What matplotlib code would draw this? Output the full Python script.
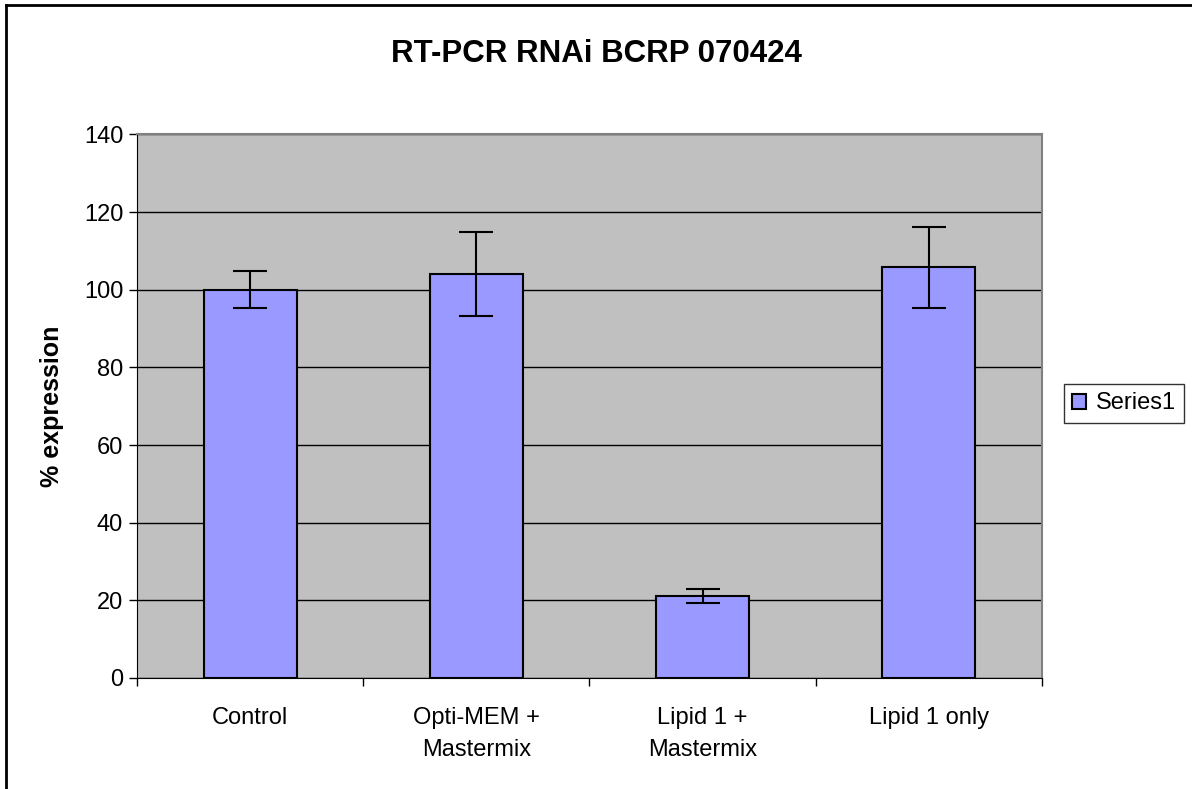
import numpy as np
import matplotlib.pyplot as plt
from matplotlib.lines import Line2D

plt.rcParams['font.family'] = ['Liberation Sans', 'DejaVu Sans']

# datos
categorias = ['Control', 'Opti-MEM +\nMastermix', 'Lipid 1 +\nMastermix', 'Lipid 1 only']
expresion = [100.0, 104.0, 21.0, 105.8]
error = [4.8, 10.8, 1.8, 10.4]
yticks = [0, 20, 40, 60, 80, 100, 120, 140]

fig = plt.figure(figsize=(11.92, 7.89), dpi=100)
ax = fig.add_axes([0.115, 0.1407, 0.759, 0.689])
ax.set_facecolor('#C0C0C0')

x = np.arange(len(categorias))
ax.bar(x, expresion, width=0.41, color='#9999FF', edgecolor='black', linewidth=1.5,
       label='Series1', zorder=3)
ax.errorbar(x, expresion, yerr=error, fmt='none', ecolor='black', elinewidth=1.5,
            capsize=12, capthick=1.5, zorder=4)

ax.set_xlim(-0.5, len(categorias) - 0.5)
ax.set_ylim(0, 140)
ax.set_yticks(yticks)
ax.yaxis.grid(True, color='black', linewidth=1)
ax.set_axisbelow(True)

# ticks en los limites de categoria
ax.set_xticks(np.arange(-0.5, len(categorias), 1.0))
ax.set_xticklabels([])
ax.set_xticks(x, minor=True)
ax.set_xticklabels(categorias, minor=True, fontsize=17, linespacing=1.55)
ax.tick_params(axis='x', which='minor', length=0, pad=21)
ax.tick_params(axis='x', which='major', length=6, direction='out', width=1)
ax.tick_params(axis='y', length=6, direction='out', width=1, labelsize=17, pad=4)

for lado in ['top', 'right']:
    ax.spines[lado].set_color('#808080')
    ax.spines[lado].set_linewidth(1.5)
ax.spines['left'].set_color('black')
ax.spines['bottom'].set_color('black')

ax.set_ylabel('% expression', fontsize=18, fontweight='bold', labelpad=14)
fig.text(0.5, 0.9214, 'RT-PCR RNAi BCRP 070424', ha='center', va='baseline',
         fontsize=22.5, fontweight='bold')

leg = ax.legend(loc='center left', bbox_to_anchor=(1.024, 0.505), fontsize=17,
                frameon=True, fancybox=False, edgecolor='black', handlelength=0.6,
                handleheight=0.6, handletextpad=0.4, borderpad=0.35,
                borderaxespad=0)
leg.get_frame().set_linewidth(1)

# marco de la figura (solo arriba e izquierda quedan dentro de la imagen)
fig.add_artist(Line2D([0.005, 1.0], [0.9937, 0.9937], transform=fig.transFigure,
                      color='black', linewidth=2))
fig.add_artist(Line2D([0.005, 0.005], [0.0, 0.9937], transform=fig.transFigure,
                      color='black', linewidth=2))

plt.savefig('out.png', dpi=100)
